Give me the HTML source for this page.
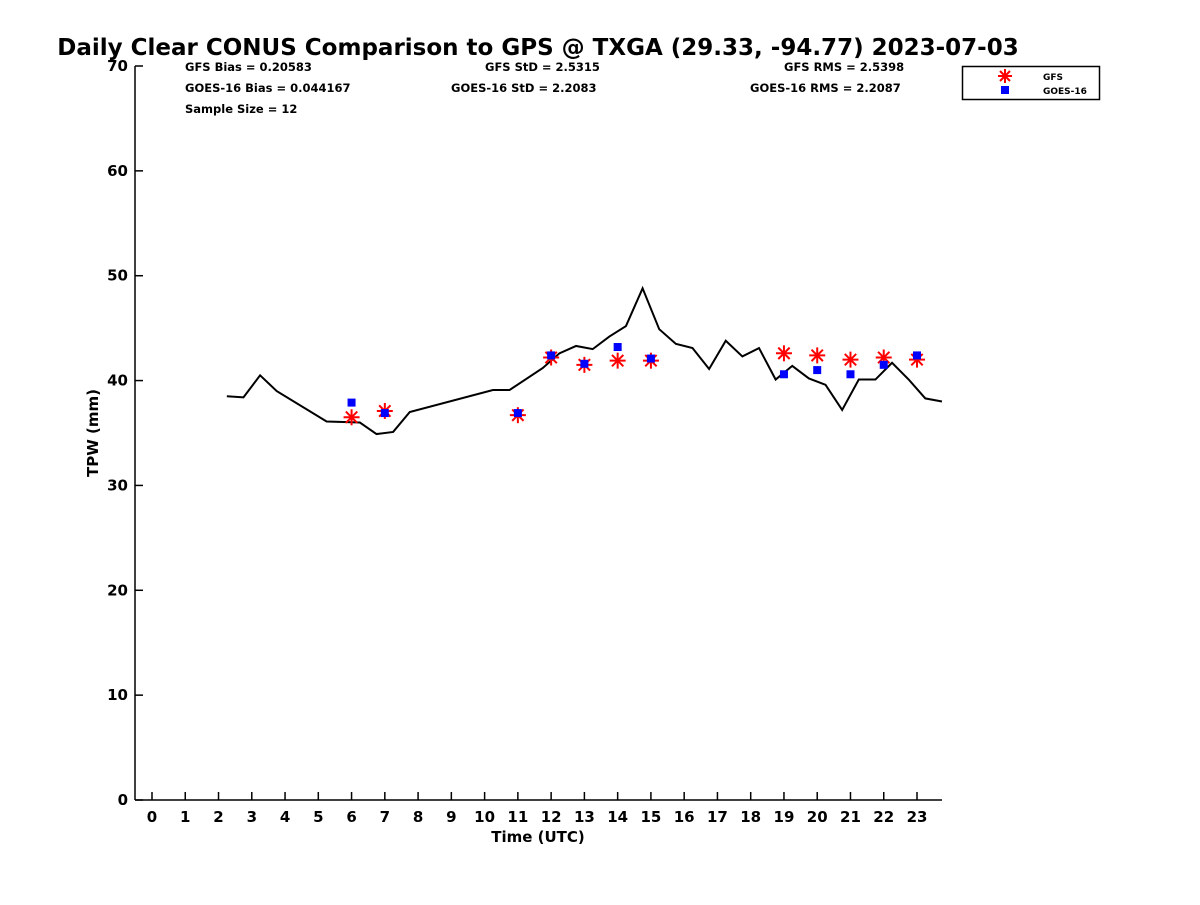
<!DOCTYPE html>
<html><head><meta charset="utf-8"><style>
body{margin:0;background:#fff;}
svg{font-family:"DejaVu Sans","Liberation Sans",sans-serif;}
</style></head><body>
<svg id="chart" width="1200" height="900">
<text x="538" y="55" text-anchor="middle" font-size="23" font-weight="bold">Daily Clear CONUS Comparison to GPS @ TXGA (29.33, -94.77) 2023-07-03</text>
<g font-size="11.5" font-weight="bold">
<text x="185" y="71">GFS Bias = 0.20583</text>
<text x="185" y="92">GOES-16 Bias = 0.044167</text>
<text x="185" y="113">Sample Size = 12</text>
<text x="485" y="71">GFS StD = 2.5315</text>
<text x="451" y="92">GOES-16 StD = 2.2083</text>
<text x="784" y="71">GFS RMS = 2.5398</text>
<text x="750" y="92">GOES-16 RMS = 2.2087</text>
</g>
<g>
<rect x="962.5" y="66.5" width="137" height="33" fill="#fff" stroke="#000" stroke-width="1.5"/>
<g stroke="red" stroke-width="2"><line x1="1005" y1="69" x2="1005" y2="83"/><line x1="998" y1="76" x2="1012" y2="76"/><line x1="1000" y1="71" x2="1010" y2="81"/><line x1="1000" y1="81" x2="1010" y2="71"/></g>
<rect x="1001" y="86" width="8" height="8" fill="blue"/>
<text x="1043" y="80" font-size="9" font-weight="bold">GFS</text>
<text x="1043" y="94" font-size="9" font-weight="bold">GOES-16</text>
</g>
<g id="axes"></g>
<g id="marks"></g>
<text x="538" y="842" text-anchor="middle" font-size="15" font-weight="bold">Time (UTC)</text>
<text transform="translate(98,433) rotate(-90)" text-anchor="middle" font-size="15" font-weight="bold">TPW (mm)</text>
</svg>
<script>
const gpsTimes=[2.25,2.75,3.25,3.75,5.25,6.25,6.75,7.25,7.75,10.25,10.75,11.75,12.25,12.75,13.25,13.75,14.25,14.75,15.25,15.75,16.25,16.75,17.25,17.75,18.25,18.75,19.25,19.75,20.25,20.75,21.25,21.75,22.25,22.75,23.25,23.75];
const gpsValues=[38.5,38.4,40.5,39.0,36.1,36.0,34.9,35.1,37.0,39.1,39.1,41.2,42.6,43.3,43.0,44.2,45.2,48.8,44.9,43.5,43.1,41.1,43.8,42.3,43.1,40.1,41.4,40.2,39.6,37.2,40.1,40.1,41.7,40.1,38.3,38.0];
const obsHours=[6,7,11,12,13,14,15,19,20,21,22,23];
const gfsValues=[36.5,37.1,36.7,42.2,41.5,41.9,41.9,42.6,42.4,42.0,42.2,42.0];
const goesValues=[37.9,36.9,36.9,42.4,41.6,43.2,42.1,40.6,41.0,40.6,41.5,42.4];
const xTicks=[0,1,2,3,4,5,6,7,8,9,10,11,12,13,14,15,16,17,18,19,20,21,22,23];
const yTicks=[0,10,20,30,40,50,60,70];
const NS='http://www.w3.org/2000/svg';
const X=h=>152+h*(917-152)/23;
const Y=v=>800-v*(800-66)/70;
function mk(tag,attrs,parent){const e=document.createElementNS(NS,tag);for(const k in attrs)e.setAttribute(k,attrs[k]);parent.appendChild(e);return e;}
const axes=document.getElementById('axes'),marks=document.getElementById('marks');
const xa=mk('line',{x1:135,y1:800,x2:942,y2:800,stroke:'#000','stroke-width':1.5},axes);


const ya=mk('line',{x1:135,y1:66,x2:135,y2:800,stroke:'#000','stroke-width':1.5},axes);


xTicks.forEach(t=>{
 const l=mk('line',{x1:X(t),y1:800,x2:X(t),y2:792,stroke:'#000','stroke-width':1.5},axes);
 
 
 const tx=mk('text',{x:X(t),y:822,'text-anchor':'middle','font-size':15,'font-weight':'bold'},axes);
 tx.textContent=t;
 
 
});
yTicks.forEach(t=>{
 const l=mk('line',{x1:135,y1:Y(t),x2:143,y2:Y(t),stroke:'#000','stroke-width':1.5},axes);
 
 
 const tx=mk('text',{x:128,y:Y(t)+5,'text-anchor':'end','font-size':15,'font-weight':'bold'},axes);
 tx.textContent=t;
 
 
});
const pl=mk('polyline',{points:gpsTimes.map((t,i)=>X(t)+','+Y(gpsValues[i])).join(' '),fill:'none',stroke:'#000','stroke-width':2},marks);


obsHours.forEach((h,i)=>{
 const cx=X(h),cy=Y(gfsValues[i]);
 const g=mk('g',{stroke:'red','stroke-width':2},marks);
 
 
 mk('line',{x1:cx,y1:cy-8,x2:cx,y2:cy+8},g);
 mk('line',{x1:cx-8,y1:cy,x2:cx+8,y2:cy},g);
 mk('line',{x1:cx-5.7,y1:cy-5.7,x2:cx+5.7,y2:cy+5.7},g);
 mk('line',{x1:cx-5.7,y1:cy+5.7,x2:cx+5.7,y2:cy-5.7},g);
});
obsHours.forEach((h,i)=>{
 const r=mk('rect',{x:X(h)-4,y:Y(goesValues[i])-4,width:8,height:8,fill:'blue'},marks);
 
 
});
</script>
</body></html>
